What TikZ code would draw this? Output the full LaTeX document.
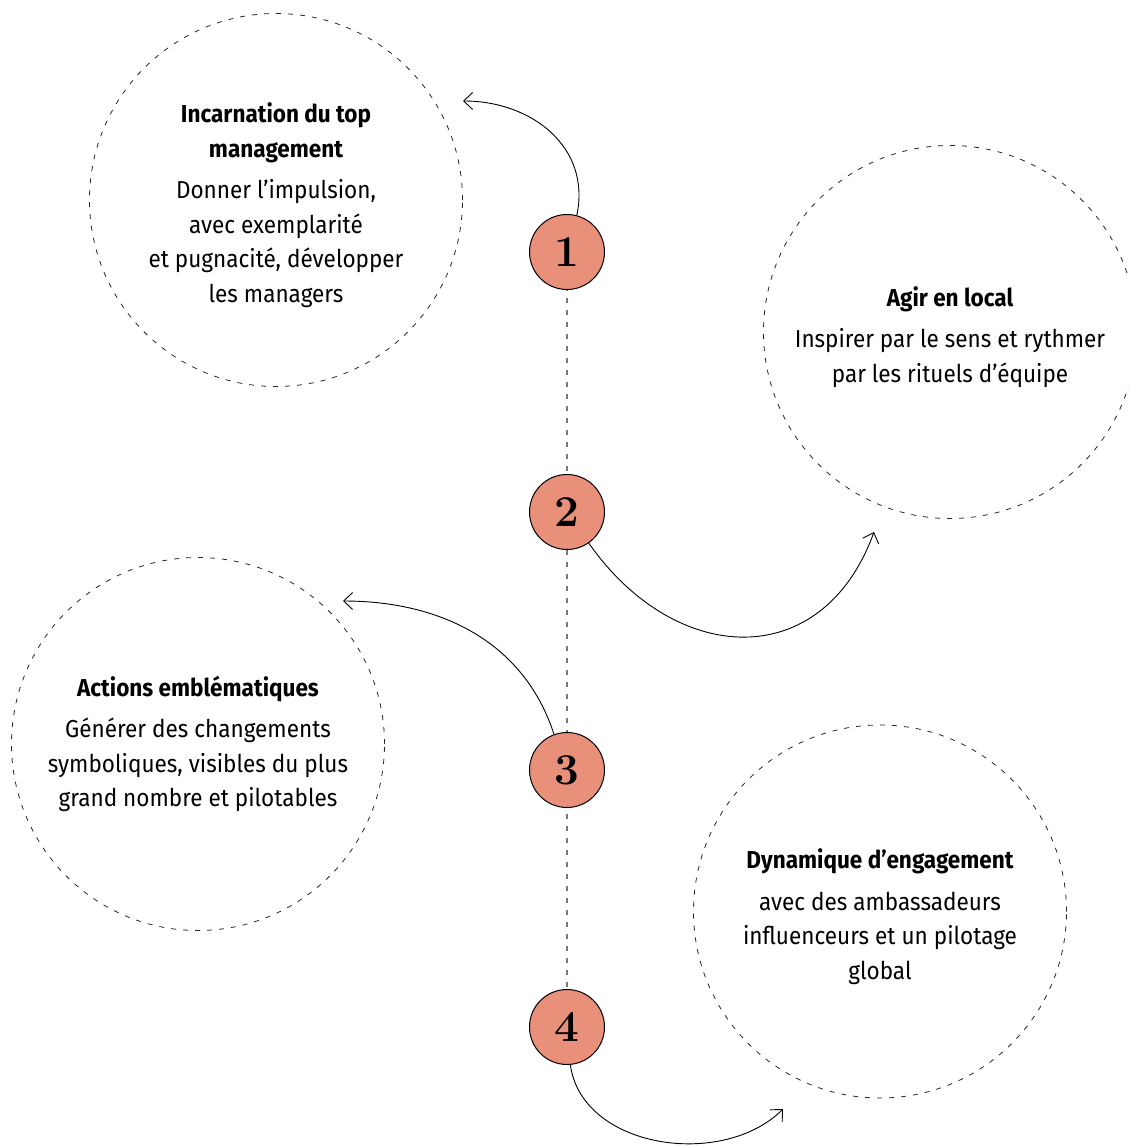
\documentclass[tikz,border=0pt]{standalone}
\usepackage{fontspec}
\newfontfamily\txtfont{Fira Sans}[FakeStretch=0.92]
\usetikzlibrary{arrows.meta}
\definecolor{salmon}{HTML}{E8907A}
\definecolor{linegray}{HTML}{777777}
\tikzset{
  x=1pt, y=-1pt,
  numcircle/.style={circle, draw=black, line width=1pt, fill=salmon, minimum size=75pt, inner sep=0pt,
    font=\fontsize{44}{44}\selectfont\bfseries},
  bubble/.style={circle, draw=black!85, line width=0.8pt, dash pattern=on 5pt off 7pt, minimum size=373pt, inner sep=0pt},
  blocktext/.style={align=center, font=\txtfont\fontsize{24.5}{34.5}\selectfont, inner sep=0pt},
  flow/.style={draw=black, line width=0.9pt, -{Straight Barb[length=9pt,width=17pt,line width=0.9pt]}},
  spine/.style={draw=linegray, line width=1.6pt, dash pattern=on 5pt off 7pt}
}
\newcommand{\ttl}[1]{{\bfseries #1}}
\begin{document}
\begin{tikzpicture}
\clip (0,0) rectangle (1128,1146);
% bubbles
\node[bubble] (b1) at (276,200) {};
\node[bubble] (b2) at (950,332) {};
\node[bubble] (b3) at (198,744) {};
\node[bubble] (b4) at (880,911.5) {};
% number circles (positions)
\coordinate (p1) at (567,252);
\coordinate (p4) at (567,1027);
\draw[spine] ([yshift=38pt]p1) -- ([yshift=-38pt]p4);
\node[numcircle] (n1) at (567,252) {1};
\node[numcircle] (n2) at (567,512) {2};
\node[numcircle] (n3) at (567,770) {3};
\node[numcircle] (n4) at (567,1027) {4};
% texts
\node[blocktext] (t1) at (276,205) {\ttl{Incarnation du top}\\\ttl{management}\\[7pt]Donner l’impulsion,\\avec exemplarité\\et pugnacité, développer\\les managers};
\node[blocktext] (t2) at (950,337) {\ttl{Agir en local}\\[7pt]Inspirer par le sens et rythmer\\par les rituels d’équipe};
\node[blocktext] (t3) at (198,744) {\ttl{Actions emblématiques}\\[7pt]Générer des changements\\symboliques, visibles du plus\\grand nombre et pilotables};
\node[blocktext] (t4) at (880,916.5) {\ttl{Dynamique d’engagement}\\[7pt]avec des ambassadeurs\\influenceurs et un pilotage\\global};
% arrow ends
\coordinate (e1) at (463,101);
\coordinate (e2) at (874,532);
\coordinate (e3) at (343,601);
\coordinate (e4) at (783,1109);
\draw[flow] (n1.75) to[out=78,in=0,looseness=1.1] (e1);
\draw[flow] (n2.-55) to[out=-55,in=-110,looseness=1.35] (e2);
\draw[flow] (n3.110) to[out=108,in=0] (e3);
\draw[flow] (n4.-85) to[out=-82,in=-135] (e4);
\end{tikzpicture}
\end{document}
